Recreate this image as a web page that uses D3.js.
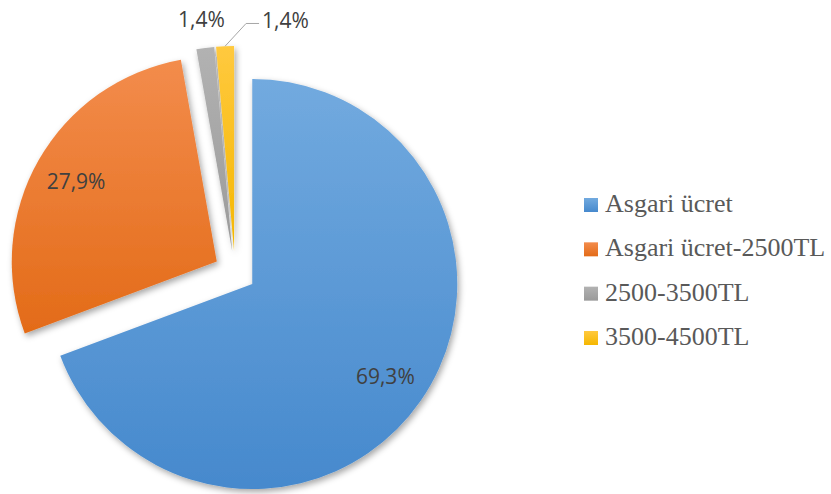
<!DOCTYPE html>
<html lang="tr">
<head>
    <meta charset="UTF-8">
    <title>Pie</title>
    <script src="https://cdnjs.cloudflare.com/ajax/libs/d3/7.8.5/d3.min.js"></script>
    <style>
        body { margin: 0; background: #fff; }
    </style>
</head>
<body>
    <svg width="831" height="494"></svg>
    <script>
        "use strict";

        const categories = ["Asgari ücret", "Asgari ücret-2500TL", "2500-3500TL", "3500-4500TL"];
        const values = [69.3, 27.9, 1.4, 1.4];
        const labels = ["69,3%", "27,9%", "1,4%", "1,4%"];

        // top / bottom colours of each slice gradient
        const colorsTop = ["#72aadf", "#f38c4c", "#b2b2b2", "#ffc93f"];
        const colorsBottom = ["#4689cd", "#e36b18", "#9a9a9a", "#f5b700"];

        const svg = d3.select("svg");
        const cx = 235, cy = 272, radius = 205, explode = 21;

        const defs = svg.append("defs");
        const shadow = defs.append("filter").attr("id", "shadow")
            .attr("x", "-20%").attr("y", "-20%").attr("width", "140%").attr("height", "140%");
        shadow.append("feDropShadow")
            .attr("dx", 2).attr("dy", 3).attr("stdDeviation", 3)
            .attr("flood-color", "#000").attr("flood-opacity", 0.35);

        categories.forEach((c, i) => {
            const g = defs.append("linearGradient").attr("id", "grad" + i)
                .attr("x1", 0).attr("y1", 0).attr("x2", 0).attr("y2", 1);
            g.append("stop").attr("offset", "0%").attr("stop-color", colorsTop[i]);
            g.append("stop").attr("offset", "100%").attr("stop-color", colorsBottom[i]);
        });

        const pie = d3.pie().sort(null).value(d => d);
        const arcs = pie(values);
        const arc = d3.arc().innerRadius(0).outerRadius(radius);

        function vertex(d) {
            const a = (d.startAngle + d.endAngle) / 2;
            return [cx + explode * Math.sin(a), cy - explode * Math.cos(a)];
        }

        const slices = svg.append("g").attr("filter", "url(#shadow)");
        slices.selectAll("path")
            .data(arcs)
            .enter()
            .append("path")
            .attr("transform", d => `translate(${vertex(d)})`)
            .attr("d", arc)
            .attr("fill", (d, i) => `url(#grad${i})`);

        // data labels
        const labelG = svg.append("g")
            .attr("font-family", "'Open Sans', sans-serif")
            .attr("font-size", 21)
            .attr("fill", "#404040");

        arcs.forEach((d, i) => {
            const a = (d.startAngle + d.endAngle) / 2;
            const [vx, vy] = vertex(d);
            if (values[i] > 10) {
                labelG.append("text")
                    .attr("x", vx + 0.79 * radius * Math.sin(a))
                    .attr("y", vy - 0.79 * radius * Math.cos(a))
                    .attr("text-anchor", "middle")
                    .attr("dy", "0.35em")
                    .text(labels[i]);
            } else if (i === 2) {
                labelG.append("text")
                    .attr("x", vx + 1.14 * radius * Math.sin(a))
                    .attr("y", vy - 1.14 * radius * Math.cos(a))
                    .attr("text-anchor", "middle")
                    .attr("dy", "0.35em")
                    .text(labels[i]);
            } else {
                const sx = vx + radius * Math.sin(a), sy = vy - radius * Math.cos(a);
                const ey = vy - 1.11 * radius;
                const ex = sx + 21;
                svg.append("polyline")
                    .attr("points", `${sx},${sy} ${ex},${ey} ${ex + 13},${ey}`)
                    .attr("fill", "none")
                    .attr("stroke", "#a6a6a6")
                    .attr("stroke-width", 1);
                labelG.append("text")
                    .attr("x", ex + 16)
                    .attr("y", ey - 3)
                    .attr("text-anchor", "start")
                    .attr("dy", "0.35em")
                    .text(labels[i]);
            }
        });

        // legend
        const legendY = d3.scalePoint().domain(categories).range([205, 338]);
        const legend = svg.append("g").selectAll("g")
            .data(categories)
            .enter()
            .append("g")
            .attr("transform", d => `translate(584, ${legendY(d)})`);

        legend.append("rect")
            .attr("x", 0).attr("y", -7)
            .attr("width", 14).attr("height", 14)
            .attr("fill", (d, i) => `url(#grad${i})`);

        legend.append("text")
            .attr("x", 21)
            .attr("y", 7)
            .attr("font-family", "'Liberation Serif', 'Times New Roman', serif")
            .attr("font-size", 26)
            .attr("fill", "#595959")
            .text(d => d);
    </script>
</body>
</html>
